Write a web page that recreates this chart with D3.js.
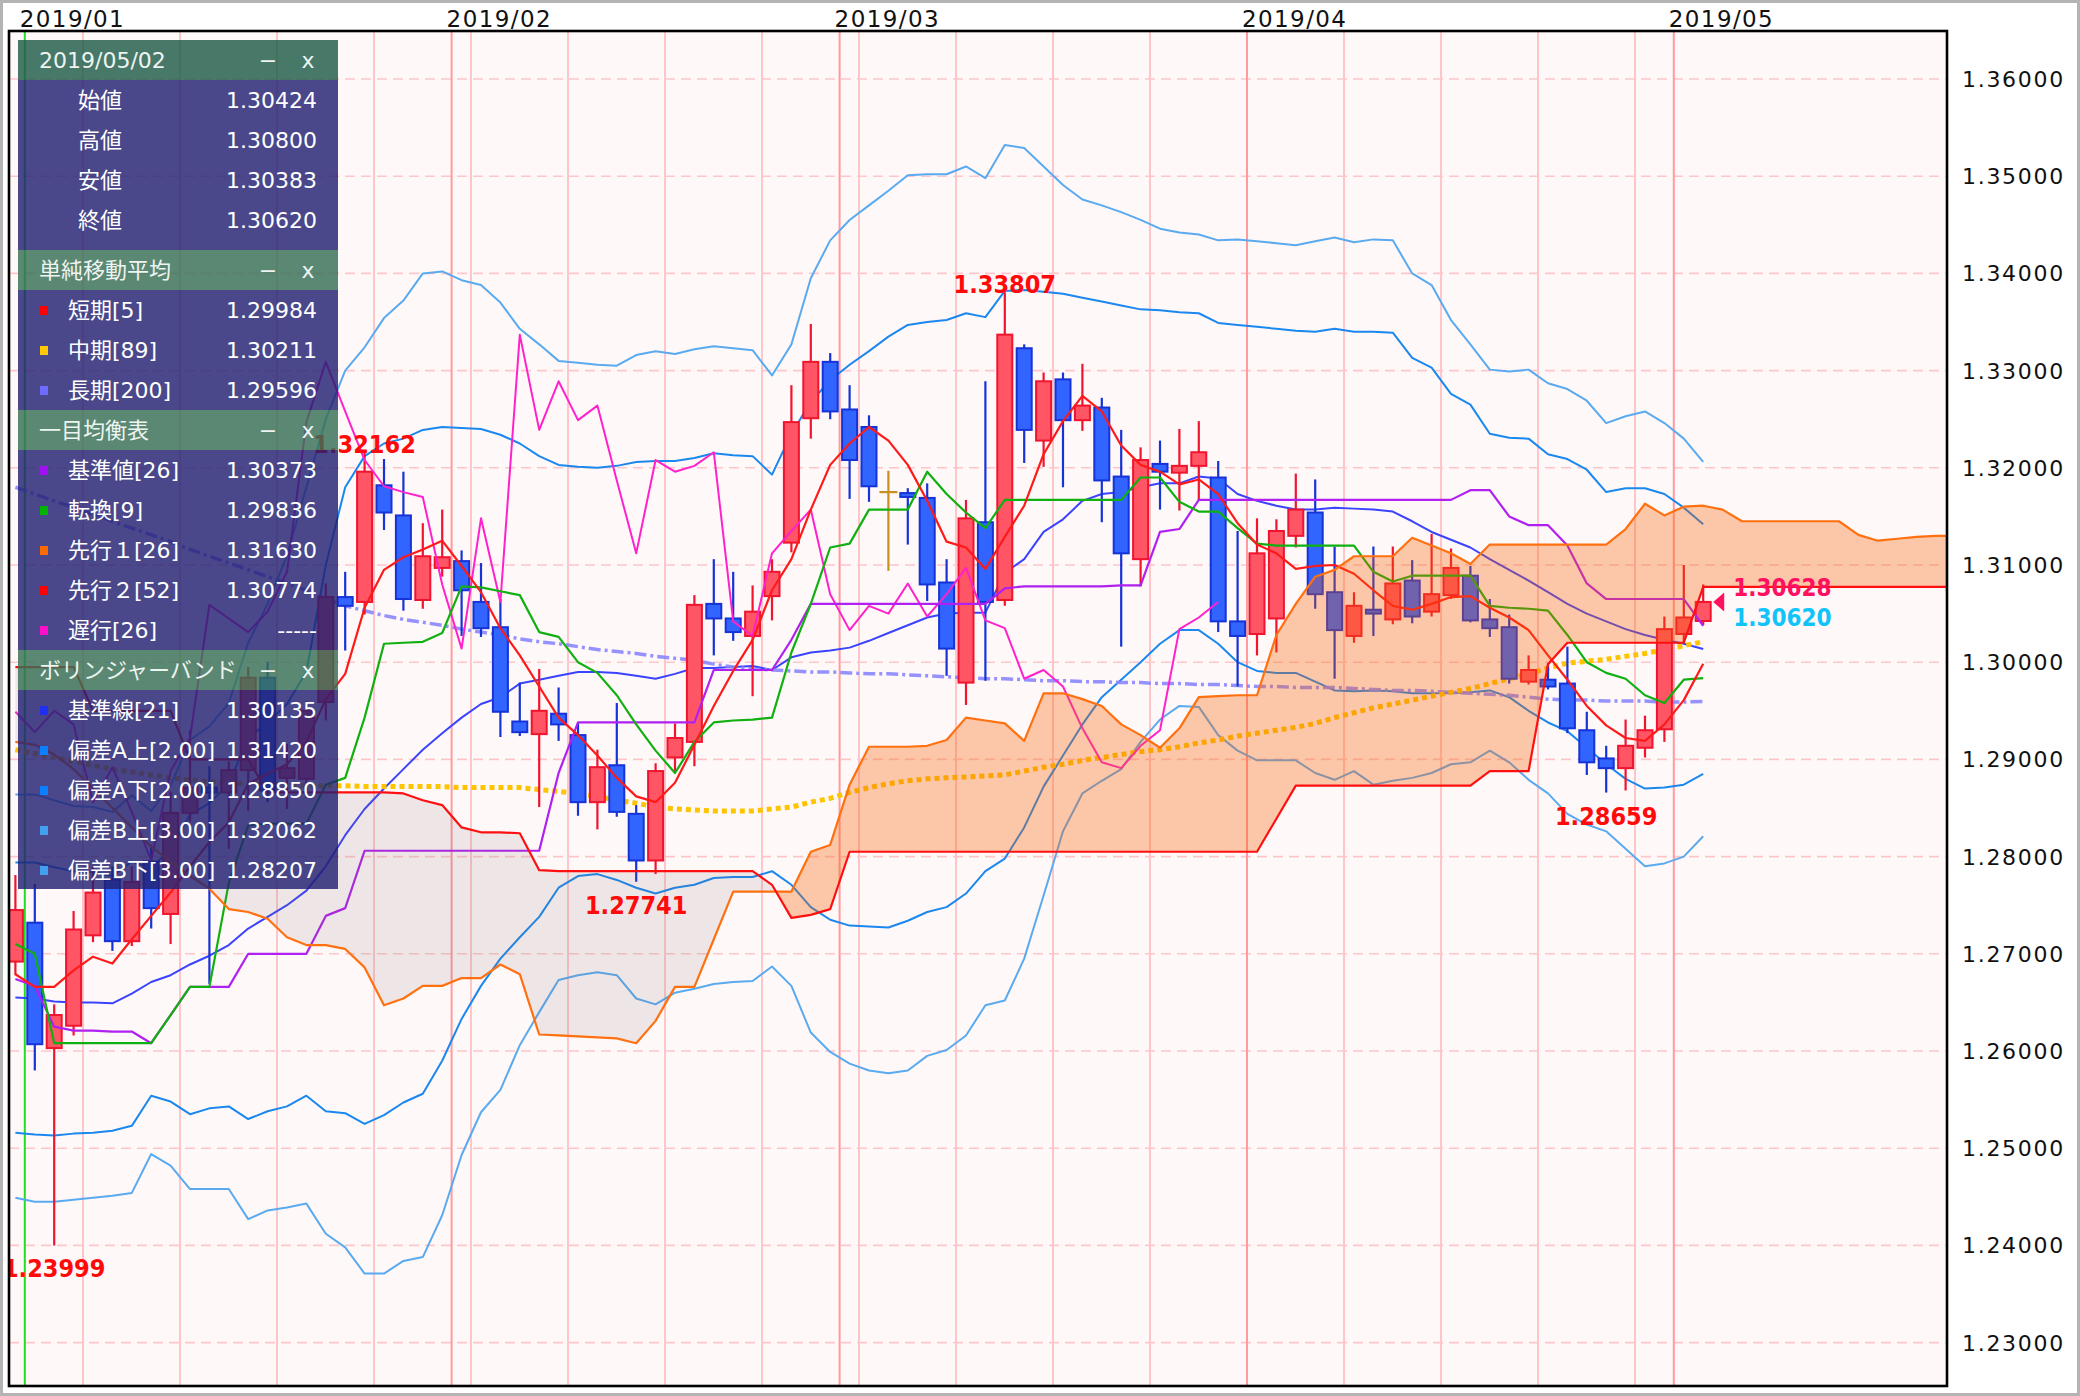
<!DOCTYPE html>
<html><head><meta charset="utf-8">
<script src="https://cdn.jsdelivr.net/npm/d3@7"></script>
<style>
html,body{margin:0;padding:0;background:#fff;}
svg{display:block;}
</style></head><body>
<svg id="c" width="2080" height="1396"></svg>
<script>
// ---------- DATA (index 0 = 2018/12/31, 87 = 2019/05/02) ----------
const openP = [1.2692,1.2732,1.2603,1.2626,1.2719,1.2776,1.2713,1.2795,1.2741,1.2845,
1.2871,1.2866,1.2889,1.2984,1.2881,1.2880,1.2959,1.3067,1.3062,1.3182,
1.3151,1.3064,1.3097,1.3104,1.3062,1.3036,1.2939,1.2926,1.2947,1.2925,
1.2856,1.2894,1.2844,1.2796,1.2902,1.2918,1.3060,1.3045,1.3027,1.3068,
1.3123,1.3251,1.3309,1.3260,1.3242,1.3175,1.3174,1.3169,1.3082,1.2979,
1.3144,1.3064,1.3323,1.3228,1.3291,1.3249,1.3262,1.3191,1.3106,1.3204,
1.3195,1.3202,1.3190,1.3042,1.3029,1.3045,1.3130,1.3154,1.3072,1.3027,
1.3054,1.3044,1.3084,1.3052,1.3069,1.3089,1.3044,1.3036,1.2980,1.2982,
1.2978,1.2930,1.2901,1.2891,1.2912,1.2931,1.3029,1.30424];
const highP = [1.2781,1.2772,1.2648,1.2744,1.2790,1.2790,1.2790,1.2812,1.2867,1.2930,
1.2893,1.2898,1.2995,1.3000,1.2916,1.2960,1.3081,1.3093,1.32162,1.3209,
1.3196,1.3143,1.3157,1.3115,1.3102,1.3065,1.2979,1.2993,1.2974,1.2938,
1.2910,1.2958,1.2853,1.2896,1.2937,1.3069,1.3106,1.3093,1.3079,1.3106,
1.3285,1.3348,1.3318,1.3285,1.3254,1.3197,1.3179,1.3184,1.3106,1.3167,
1.3289,1.33807,1.3327,1.3298,1.3298,1.3307,1.3272,1.3239,1.3221,1.3228,
1.3240,1.3248,1.3207,1.3135,1.3148,1.3147,1.3194,1.3188,1.3119,1.3072,
1.3119,1.3119,1.3105,1.3132,1.3117,1.3099,1.3065,1.3049,1.3007,1.2999,
1.3016,1.2949,1.2914,1.2941,1.2945,1.3047,1.3100,1.30800];
const lowP = [1.2678,1.2580,1.23999,1.2616,1.2712,1.2703,1.2708,1.2726,1.2710,1.2836,
1.2669,1.2808,1.2847,1.2856,1.2849,1.2860,1.2940,1.3012,1.3049,1.3136,
1.3053,1.3055,1.3088,1.3027,1.3026,1.2923,1.2924,1.2851,1.2919,1.2842,
1.2828,1.2841,1.27741,1.2782,1.2888,1.2893,1.3007,1.3022,1.2965,1.3043,
1.3113,1.3230,1.3250,1.3168,1.3165,1.3094,1.3121,1.3063,1.2986,1.2956,
1.2981,1.3058,1.3205,1.3201,1.3180,1.3238,1.3144,1.3016,1.3078,1.3157,
1.3156,1.3166,1.3031,1.2975,1.3007,1.3010,1.3118,1.3055,1.2983,1.3020,
1.3027,1.3039,1.3040,1.3047,1.3065,1.3041,1.3026,1.2978,1.2977,1.2972,
1.2927,1.2884,1.28659,1.2868,1.2902,1.2918,1.3020,1.30383];
const closeP = [1.2745,1.2607,1.2637,1.2725,1.2763,1.2713,1.2774,1.2747,1.2845,1.2871,
1.2866,1.2889,1.2984,1.2868,1.2891,1.2950,1.3067,1.3058,1.3196,1.3154,
1.3065,1.3109,1.3108,1.3074,1.3035,1.2949,1.2928,1.2950,1.2936,1.2856,
1.2892,1.2846,1.2796,1.2888,1.2922,1.3059,1.3045,1.3031,1.3052,1.3093,
1.3247,1.3309,1.3258,1.3208,1.3181,1.3175,1.3170,1.3080,1.3014,1.3148,
1.3062,1.3337,1.3239,1.3289,1.3249,1.3264,1.3187,1.3112,1.3208,1.3196,
1.3202,1.3216,1.3042,1.3027,1.3112,1.3135,1.3157,1.3070,1.3033,1.3058,
1.3050,1.3081,1.3047,1.3070,1.3097,1.3043,1.3035,1.2983,1.2992,1.2975,
1.2932,1.2897,1.2891,1.2914,1.2930,1.3034,1.3046,1.30620];

const sma5 = [1.2679,1.2666,1.2666,1.2683,1.2697,1.2690,1.2715,1.2739,1.2763,1.2790,
1.2815,1.2835,1.2875,1.2885,1.2895,1.2918,1.2962,1.2988,1.3056,1.3095,
1.3108,1.3116,1.3125,1.3099,1.3072,1.3035,1.3007,1.2975,1.2943,1.2925,
1.2904,1.2881,1.2862,1.2856,1.2876,1.2915,1.2955,1.2991,1.3023,1.3074,
1.3106,1.3157,1.3203,1.3225,1.3242,1.3228,1.3203,1.3166,1.3124,1.3118,
1.3096,1.3129,1.3161,1.3214,1.3248,1.3274,1.3258,1.3223,1.3203,1.3196,
1.3183,1.3188,1.3173,1.3143,1.3121,1.3112,1.3096,1.3099,1.3100,1.3091,
1.3074,1.3058,1.3054,1.3060,1.3067,1.3068,1.3056,1.3046,1.3033,1.3007,
1.2982,1.2955,1.2935,1.2922,1.2919,1.2936,1.2961,1.29984];
const sma89 = [1.2910,1.2906,1.2902,1.2898,1.2894,1.2890,1.2887,1.2884,1.2881,1.2879,
1.2877,1.2876,1.2875,1.2874,1.2874,1.2873,1.2873,1.2873,1.2872,1.2872,
1.2872,1.2872,1.2872,1.2871,1.2871,1.2871,1.2871,1.2869,1.2867,1.2865,
1.2862,1.2858,1.2855,1.2851,1.2849,1.2848,1.2847,1.2847,1.2847,1.2849,
1.2851,1.2856,1.2860,1.2866,1.2871,1.2875,1.2878,1.2880,1.2881,1.2882,
1.2883,1.2884,1.2888,1.2892,1.2895,1.2899,1.2902,1.2905,1.2908,1.2910,
1.2913,1.2917,1.2920,1.2924,1.2927,1.2930,1.2933,1.2937,1.2943,1.2948,
1.2953,1.2957,1.2961,1.2965,1.2969,1.2973,1.2978,1.2983,1.2988,1.2994,
1.2999,1.3001,1.3003,1.3006,1.3009,1.3013,1.3017,1.30211];
const sma200 = [1.3180,1.3173,1.3166,1.3159,1.3152,1.3145,1.3138,1.3131,1.3124,1.3116,
1.3109,1.3102,1.3095,1.3088,1.3081,1.3074,1.3065,1.3058,1.3053,1.3048,
1.3044,1.3041,1.3038,1.3034,1.3031,1.3028,1.3024,1.3021,1.3019,1.3016,
1.3013,1.3011,1.3009,1.3006,1.3004,1.3002,1.2998,1.2995,1.2993,1.2992,
1.2991,1.2990,1.2990,1.2989,1.2988,1.2988,1.2987,1.2986,1.2985,1.2984,
1.2983,1.2983,1.2982,1.2981,1.2981,1.2980,1.2980,1.2979,1.2979,1.2978,
1.2978,1.2977,1.2977,1.2976,1.2975,1.2975,1.2974,1.2974,1.2974,1.2973,
1.2972,1.2971,1.2971,1.2970,1.2969,1.2968,1.2967,1.2966,1.2964,1.2962,
1.2961,1.2961,1.2960,1.2960,1.2960,1.2959,1.2959,1.29596];

const tenkan = [1.2710,1.2700,1.2608,1.2608,1.2608,1.2608,1.2608,1.2608,1.2637,1.2666,
1.2666,1.2773,1.2832,1.2834,1.2834,1.2834,1.2874,1.2881,1.2943,1.3019,
1.3020,1.3021,1.3030,1.3078,1.3077,1.3073,1.3069,1.3031,1.3026,1.3000,
1.2989,1.2966,1.2936,1.2909,1.2886,1.2918,1.2938,1.2940,1.2941,1.2943,
1.3010,1.3060,1.3118,1.3122,1.3157,1.3157,1.3157,1.3196,1.3173,1.3154,
1.3138,1.3167,1.3167,1.3167,1.3167,1.3167,1.3167,1.3167,1.3190,1.3190,
1.3165,1.3155,1.3155,1.3138,1.3122,1.3120,1.3120,1.3120,1.3120,1.3120,
1.3093,1.3083,1.3089,1.3089,1.3089,1.3089,1.3058,1.3056,1.3055,1.3053,
1.3028,1.3000,1.2989,1.2983,1.2966,1.2958,1.2982,1.29836];
const kijun = [1.2674,1.2667,1.2625,1.2621,1.2621,1.2620,1.2620,1.2608,1.2637,1.2666,
1.2666,1.2666,1.2700,1.2700,1.2700,1.2700,1.2739,1.2747,1.2806,1.2806,
1.2806,1.2806,1.2806,1.2806,1.2806,1.2806,1.2806,1.2806,1.2886,1.2938,
1.2938,1.2938,1.2938,1.2938,1.2938,1.2938,1.2992,1.2992,1.2992,1.2992,
1.3023,1.3060,1.3060,1.3060,1.3060,1.3060,1.3060,1.3060,1.3060,1.3060,
1.3060,1.3076,1.3078,1.3078,1.3078,1.3078,1.3078,1.3079,1.3079,1.3134,
1.3137,1.3167,1.3167,1.3167,1.3167,1.3167,1.3167,1.3167,1.3167,1.3167,
1.3167,1.3167,1.3167,1.3167,1.3167,1.3177,1.3177,1.3150,1.3141,1.3141,
1.3120,1.3081,1.3065,1.3065,1.3065,1.3065,1.3065,1.30373];
const senkouA = [1.2918,1.2915,1.2905,1.2890,1.2870,1.2850,1.2830,1.2810,1.2795,1.2780,
1.2767,1.2746,1.2743,1.2736,1.2717,1.2709,1.2709,1.2705,1.2686,1.2647,
1.2654,1.2667,1.2667,1.2675,1.2675,1.2689,1.2679,1.2617,1.2616,1.2615,
1.2614,1.2613,1.2608,1.2631,1.2666,1.2666,1.2715,1.2764,1.2764,1.2764,
1.2764,1.2805,1.2812,1.2874,1.2913,1.2913,1.2913,1.2914,1.2920,1.2943,
1.2940,1.2937,1.2919,1.2968,1.2968,1.2962,1.2955,1.2936,1.2925,1.2912,
1.2932,1.2964,1.2965,1.2966,1.2966,1.3028,1.3060,1.3088,1.3095,1.3109,
1.3109,1.3109,1.3128,1.3120,1.3112,1.3101,1.3121,1.3121,1.3121,1.3121,
1.3121,1.3121,1.3121,1.3137,1.3163,1.3151,1.3160,1.3161,1.3157,1.3145,
1.3145,1.3145,1.3145,1.3145,1.3145,1.3131,1.3125,1.3127,1.3129,1.3130,
1.3130];
const senkouB = [1.2995,1.2995,1.2995,1.2995,1.2950,1.2950,1.2950,1.2950,1.2950,1.2900,
1.2900,1.2900,1.2900,1.2866,1.2866,1.2866,1.2866,1.2866,1.2866,1.2866,
1.2865,1.2858,1.2853,1.2830,1.2825,1.2825,1.2824,1.2786,1.2785,1.2785,
1.2785,1.2785,1.2785,1.2785,1.2785,1.2785,1.2785,1.2785,1.2785,1.2771,
1.2737,1.2740,1.2746,1.2805,1.2805,1.2805,1.2805,1.2805,1.2805,1.2805,
1.2805,1.2805,1.2805,1.2805,1.2805,1.2805,1.2805,1.2805,1.2805,1.2805,
1.2805,1.2805,1.2805,1.2805,1.2805,1.2839,1.2873,1.2873,1.2873,1.2873,
1.2873,1.2873,1.2873,1.2873,1.2873,1.2873,1.2888,1.2888,1.2888,1.2998,
1.3020,1.3020,1.3020,1.3020,1.3020,1.3020,1.3020,1.30774,1.30774,1.30774,
1.30774,1.30774,1.30774,1.30774,1.30774,1.30774,1.30774,1.30774,1.30774,1.30774,
1.30774];
const chikou = [1.2949,1.2928,1.2950,1.2936,1.2856,1.2892,1.2846,1.2796,1.2888,1.2922,
1.3059,1.3045,1.3031,1.3052,1.3093,1.3247,1.3309,1.3258,1.3208,1.3181,
1.3175,1.3170,1.3080,1.3014,1.3148,1.3062,1.3337,1.3239,1.3289,1.3249,
1.3264,1.3187,1.3112,1.3208,1.3196,1.3202,1.3216,1.3042,1.3027,1.3112,
1.3135,1.3157,1.3070,1.3033,1.3058,1.3050,1.3081,1.3047,1.3070,1.3097,
1.3043,1.3035,1.2983,1.2992,1.2975,1.2932,1.2897,1.2891,1.2914,1.2930,
1.3034,1.3046,1.3062];

const bbMid = [1.2655,1.2654,1.2651,1.2650,1.2650,1.2649,1.2659,1.2671,1.2678,1.2689,
1.2698,1.2709,1.2726,1.2738,1.2750,1.2765,1.2790,1.2822,1.2849,1.2870,
1.2890,1.2910,1.2927,1.2943,1.2957,1.2964,1.2978,1.2982,1.2986,1.2990,
1.2990,1.2989,1.2986,1.2983,1.2988,1.2994,1.2994,1.2995,1.2996,1.2992,
1.3005,1.3010,1.3012,1.3015,1.3022,1.3030,1.3038,1.3046,1.3050,1.3051,
1.3051,1.3092,1.3106,1.3134,1.3147,1.3166,1.3173,1.3175,1.3180,1.3184,
1.3184,1.3191,1.3189,1.3173,1.3166,1.3161,1.3157,1.3157,1.3159,1.3158,
1.3157,1.3155,1.3145,1.3134,1.3126,1.3118,1.3106,1.3095,1.3084,1.3072,
1.3060,1.3050,1.3042,1.3034,1.3028,1.3023,1.3019,1.30135];
const bbUp2 = [1.2794,1.2794,1.2789,1.2785,1.2784,1.2780,1.2795,1.2788,1.2808,1.2843,
1.2855,1.2875,1.2922,1.2938,1.2957,1.2990,1.3100,1.3180,1.3212,1.3225,
1.3230,1.3239,1.3242,1.3241,1.3240,1.3234,1.3225,1.3212,1.3203,1.3201,
1.3200,1.3202,1.3206,1.3207,1.3207,1.3210,1.3215,1.3213,1.3212,1.3193,
1.3235,1.3268,1.3290,1.3306,1.3320,1.3335,1.3347,1.3350,1.3352,1.3359,
1.3355,1.3382,1.3383,1.3381,1.3379,1.3375,1.3371,1.3367,1.3363,1.3362,
1.3360,1.3359,1.3349,1.3347,1.3345,1.3343,1.3341,1.3340,1.3343,1.3340,
1.3340,1.3339,1.3313,1.3303,1.3276,1.3265,1.3235,1.3231,1.3230,1.3214,
1.3209,1.3198,1.3175,1.3179,1.3179,1.3173,1.3159,1.3142];
const bbLo2 = [1.2516,1.2514,1.2513,1.2515,1.2516,1.2518,1.2523,1.2554,1.2548,1.2535,
1.2541,1.2543,1.2530,1.2538,1.2543,1.2554,1.2538,1.2536,1.2525,1.2534,
1.2547,1.2556,1.2590,1.2633,1.2667,1.2695,1.2717,1.2738,1.2768,1.2780,
1.2782,1.2776,1.2768,1.2762,1.2768,1.2771,1.2778,1.2779,1.2779,1.2785,
1.2771,1.2748,1.2735,1.2729,1.2728,1.2727,1.2734,1.2743,1.2748,1.2762,
1.2785,1.2798,1.2830,1.2872,1.2904,1.2936,1.2964,1.2982,1.3000,1.3019,
1.3033,1.3033,1.3019,1.3000,1.2991,1.2989,1.2989,1.2980,1.2971,1.2970,
1.2971,1.2970,1.2968,1.2968,1.2968,1.2969,1.2971,1.2964,1.2950,1.2938,
1.2929,1.2912,1.2895,1.2880,1.2870,1.2871,1.2874,1.2885];
const bbUp3 = [1.2864,1.2864,1.2858,1.2852,1.2851,1.2846,1.2863,1.2847,1.2873,1.2920,
1.2934,1.2958,1.3020,1.3060,1.3110,1.3180,1.3250,1.3300,1.3324,1.3354,
1.3372,1.3400,1.3402,1.3393,1.3388,1.3370,1.3343,1.3327,1.3310,1.3308,
1.3306,1.3305,1.3316,1.3320,1.3317,1.3322,1.3325,1.3323,1.3321,1.3295,
1.3327,1.3395,1.3434,1.3455,1.3470,1.3485,1.3501,1.3502,1.3502,1.3510,
1.3498,1.3532,1.3529,1.3510,1.3491,1.3476,1.3470,1.3463,1.3455,1.3446,
1.3442,1.3440,1.3434,1.3435,1.3433,1.3431,1.3429,1.3433,1.3437,1.3432,
1.3435,1.3434,1.3400,1.3388,1.3352,1.3327,1.3301,1.3299,1.3301,1.3287,
1.3281,1.3269,1.3246,1.3253,1.3258,1.3246,1.3230,1.3206];
const bbLo3 = [1.2449,1.2445,1.2445,1.2447,1.2449,1.2451,1.2454,1.2494,1.2482,1.2458,
1.2458,1.2458,1.2427,1.2436,1.2439,1.2443,1.2412,1.2398,1.2371,1.2371,
1.2384,1.2388,1.2431,1.2493,1.2537,1.2560,1.2606,1.2640,1.2673,1.2678,
1.2681,1.2678,1.2654,1.2648,1.2660,1.2664,1.2669,1.2671,1.2672,1.2687,
1.2667,1.2619,1.2599,1.2587,1.2580,1.2577,1.2580,1.2595,1.2601,1.2616,
1.2647,1.2652,1.2695,1.2760,1.2826,1.2865,1.2878,1.2890,1.2918,1.2941,
1.2955,1.2954,1.2925,1.2909,1.2899,1.2899,1.2899,1.2886,1.2879,1.2888,
1.2874,1.2878,1.2881,1.2886,1.2895,1.2897,1.2909,1.2897,1.2879,1.2865,
1.2844,1.2833,1.2826,1.2808,1.2790,1.2793,1.2800,1.2821];

const yTicks = [1.23,1.24,1.25,1.26,1.27,1.28,1.29,1.30,1.31,1.32,1.33,1.34,1.35,1.36];
const yTickLabels = ["1.23000","1.24000","1.25000","1.26000","1.27000","1.28000","1.29000","1.30000","1.31000","1.32000","1.33000","1.34000","1.35000","1.36000"];
const monthIdx = [1,23,43,64,86];
const monthLabels = ["2019/01","2019/02","2019/03","2019/04","2019/05"];
const weekIdx = [4,9,14,19,24,29,34,39,44,49,54,59,64,69,74,79,84];
const markIdx = [18,51,2,32,82];
const markKind = ["hi","hi","lo","lo","lo"];
const markText = ["1.32162","1.33807","1.23999","1.27741","1.28659"];
const askText = "1.30628", bidText = "1.30620";
const askVal = 1.30628, bidVal = 1.30620;

const panelSections = [
 {title:"2019/05/02", top:40, end:250, rows:[["始値","1.30424",null],["高値","1.30800",null],["安値","1.30383",null],["終値","1.30620",null]]},
 {title:"単純移動平均", top:250, end:410, rows:[["短期[5]","1.29984","#ff0000"],["中期[89]","1.30211","#ffc800"],["長期[200]","1.29596","#6e6cff"]]},
 {title:"一目均衡表", top:410, end:650, rows:[["基準値[26]","1.30373","#a010f0"],["転換[9]","1.29836","#00b400"],["先行１[26]","1.31630","#ff6a00"],["先行２[52]","1.30774","#ff0000"],["遅行[26]","-----","#ff10c8"]]},
 {title:"ボリンジャーバンド", top:650, end:889, rows:[["基準線[21]","1.30135","#2030f0"],["偏差A上[2.00]","1.31420","#0a80ff"],["偏差A下[2.00]","1.28850","#0a80ff"],["偏差B上[3.00]","1.32062","#44a0ee"],["偏差B下[3.00]","1.28207","#44a0ee"]]}
];

// ---------- DRAW ----------
const svg = d3.select('#c');
const PL=9, PT=31, PR=1947, PB=1386;
const x = d3.scaleLinear().domain([0,100]).range([15.4, 15.4+1940]);
const y = d3.scaleLinear().domain([1.23,1.36]).range([1342.6,79]);

svg.append('rect').attr('x',1.5).attr('y',1.5).attr('width',2077).attr('height',1393)
  .attr('fill','#fff').attr('stroke','#b4b4b4').attr('stroke-width',3);
svg.append('rect').attr('x',PL).attr('y',PT).attr('width',PR-PL).attr('height',PB-PT).attr('fill','#fff8f8');

const defs = svg.append('defs');
defs.append('clipPath').attr('id','clip').append('rect')
  .attr('x',PL).attr('y',PT).attr('width',PR-PL).attr('height',PB-PT);

const grid = svg.append('g').attr('clip-path','url(#clip)');
yTicks.forEach(v=>{
  grid.append('line').attr('x1',PL).attr('x2',PR).attr('y1',y(v)).attr('y2',y(v))
    .attr('stroke','#ffc6ca').attr('stroke-width',1.6).attr('stroke-dasharray','10,6');
});
weekIdx.forEach(i=>{
  grid.append('line').attr('x1',x(i)-10).attr('x2',x(i)-10).attr('y1',PT).attr('y2',PB)
    .attr('stroke','#ffc6ca').attr('stroke-width',2);
});
monthIdx.forEach((i,k)=>{
  grid.append('line').attr('x1',x(i)-10).attr('x2',x(i)-10).attr('y1',PT).attr('y2',PB)
    .attr('stroke', k===0 ? '#22dd22' : '#ff9a9e').attr('stroke-width',2);
});

const g = svg.append('g').attr('clip-path','url(#clip)');
const lineGen = d3.line().x((d,i)=>x(i)).y(d=>y(d)).defined(d=>d!=null);
function drawLine(arr, color, w, dash, op){
  const p = g.append('path').attr('d', lineGen(arr)).attr('fill','none')
    .attr('stroke',color).attr('stroke-width',w).attr('stroke-linejoin','round');
  if(dash) p.attr('stroke-dasharray',dash);
  if(op) p.attr('opacity',op);
  return p;
}
// Bollinger
drawLine(bbUp3,'#5aaaf0',2);
drawLine(bbLo3,'#5aaaf0',2);
drawLine(bbUp2,'#1a88ee',2);
drawLine(bbLo2,'#1a88ee',2);
drawLine(bbMid,'#3a44ff',2);
// SMAs long
drawLine(sma200,'#8a86ff',3.5,'12,4,3,4',0.9);
drawLine(sma89,'#ffc400',5,'5,4');

// candles
d3.range(openP.length).forEach(i=>{
  const o=openP[i], c=closeP[i], h=highP[i], l=lowP[i];
  const up=c>o, doji=c===o;
  const edge = doji ? '#c8901e' : (up ? '#f0142e' : '#1533d6');
  const fill = up ? '#ff5564' : '#3264ff';
  g.append('line').attr('x1',x(i)).attr('x2',x(i)).attr('y1',y(h)).attr('y2',y(l))
    .attr('stroke',edge).attr('stroke-width',2.2);
  if(doji){
    g.append('line').attr('x1',x(i)-9).attr('x2',x(i)+9).attr('y1',y(o)).attr('y2',y(o))
      .attr('stroke',edge).attr('stroke-width',2.2);
  } else {
    const top=y(Math.max(o,c)), bot=y(Math.min(o,c));
    g.append('rect').attr('x',x(i)-7.5).attr('y',top).attr('width',15).attr('height',Math.max(1,bot-top))
      .attr('fill',fill).attr('stroke',edge).attr('stroke-width',2);
  }
});

// ichimoku lines & sma5
drawLine(chikou,'#ff22cc',2);
drawLine(kijun,'#b020f0',2.2);
drawLine(tenkan,'#10b010',2.2);
drawLine(sma5,'#ff1a1a',2.2);

// cloud fill with crossing detection
function cloudRuns(A,B){
  const runs=[]; let cur=null;
  const n=Math.min(A.length,B.length);
  for(let k=0;k<n;k++){
    const d=A[k]-B[k]; const s=d>=0?1:-1;
    if(!cur){cur={s,pts:[[k,A[k],B[k]]]};continue;}
    if(s===cur.s){cur.pts.push([k,A[k],B[k]]);}
    else{
      const dp=A[k-1]-B[k-1]; const t=dp/(dp-d);
      const kx=k-1+t; const v=A[k-1]+(A[k]-A[k-1])*t;
      cur.pts.push([kx,v,v]); runs.push(cur);
      cur={s,pts:[[kx,v,v],[k,A[k],B[k]]]};
    }
  }
  if(cur) runs.push(cur);
  return runs;
}
cloudRuns(senkouA,senkouB).forEach(r=>{
  const fwd=r.pts.map(p=>[x(p[0]),y(p[1])]);
  const back=r.pts.slice().reverse().map(p=>[x(p[0]),y(p[2])]);
  const pts=fwd.concat(back);
  g.append('path').attr('d','M'+pts.map(p=>p.join(',')).join('L')+'Z')
    .attr('fill', r.s>0 ? 'rgba(245,96,0,0.32)' : 'rgba(120,112,112,0.13)').attr('stroke','none');
});
drawLine(senkouA,'#ff7010',2.2);
drawLine(senkouB,'#ff1010',2.2);

// high/low marks
const markFont = "'DejaVu Sans Condensed','DejaVu Sans',sans-serif";
markIdx.forEach((i,k)=>{
  const hi = markKind[k]==='hi';
  g.append('text').attr('x',x(i)).attr('y', hi ? y(highP[i])+1 : y(lowP[i])+32)
    .attr('text-anchor','middle').attr('font-family',markFont).attr('font-stretch','condensed')
    .attr('font-weight','bold').attr('font-size',25).attr('fill','#ff0a0a').text(markText[k]);
});
// ask/bid tags
const lastX = x(openP.length-1);
g.append('path').attr('d',`M${lastX+10},${y(bidVal)} L${lastX+21},${y(bidVal)-9.5} L${lastX+21},${y(bidVal)+9.5}Z`).attr('fill','#ff1060');
g.append('text').attr('x',lastX+30).attr('y',y(askVal)-5).attr('font-family',markFont).attr('font-stretch','condensed')
  .attr('font-weight','bold').attr('font-size',24).attr('fill','#ff1060').text(askText);
g.append('text').attr('x',lastX+30).attr('y',y(bidVal)+24).attr('font-family',markFont).attr('font-stretch','condensed')
  .attr('font-weight','bold').attr('font-size',24).attr('fill','#10c4fa').text(bidText);

// border
svg.append('rect').attr('x',PL).attr('y',PT).attr('width',PR-PL).attr('height',PB-PT)
  .attr('fill','none').attr('stroke','#000').attr('stroke-width',2.6);

// axes text
yTicks.forEach((v,k)=>{
  svg.append('text').attr('x',1962).attr('y',y(v)).attr('dy','0.36em')
    .attr('font-family','DejaVu Sans').attr('font-size',22).attr('letter-spacing',1.7)
    .attr('fill','#111').text(yTickLabels[k]);
});
monthIdx.forEach((i,k)=>{
  svg.append('text').attr('x',x(i)-15).attr('y',27)
    .attr('font-family','DejaVu Sans').attr('font-size',23).attr('letter-spacing',1.4)
    .attr('fill','#111').text(monthLabels[k]);
});

// info panel
const pf = "'DejaVu Sans','Noto Sans CJK JP',sans-serif";
const panel = svg.append('g');
panelSections.forEach((s,si)=>{
  panel.append('rect').attr('x',18).attr('y',s.top).attr('width',320).attr('height',40)
    .attr('fill', si===0 ? 'rgba(31,92,72,0.82)' : 'rgba(54,111,86,0.82)');
  panel.append('rect').attr('x',18).attr('y',s.top+40).attr('width',320).attr('height',s.end-s.top-40)
    .attr('fill','rgba(34,33,114,0.82)');
  panel.append('text').attr('x',39).attr('y',s.top+28).attr('font-family',pf).attr('font-size',22)
    .attr('fill','#eef4f0').text(s.title);
  panel.append('text').attr('x',268).attr('y',s.top+28).attr('text-anchor','middle').attr('font-family',pf)
    .attr('font-size',22).attr('fill','#eef4f0').text('−');
  panel.append('text').attr('x',308).attr('y',s.top+28).attr('text-anchor','middle').attr('font-family',pf)
    .attr('font-size',22).attr('fill','#eef4f0').text('x');
  s.rows.forEach((r,ri)=>{
    const cy = s.top+60+ri*40;
    if(r[2]){
      panel.append('rect').attr('x',40).attr('y',cy-4).attr('width',8).attr('height',9).attr('fill',r[2]);
      panel.append('text').attr('x',68).attr('y',cy+8).attr('font-family',pf).attr('font-size',22)
        .attr('fill','#fff').text(r[0]);
    } else {
      panel.append('text').attr('x',100).attr('y',cy+8).attr('text-anchor','middle').attr('font-family',pf)
        .attr('font-size',22).attr('fill','#fff').text(r[0]);
    }
    panel.append('text').attr('x',317).attr('y',cy+8).attr('text-anchor','end').attr('font-family',pf)
      .attr('font-size',22).attr('fill','#fff').text(r[1]);
  });
});
</script>
</body></html>
